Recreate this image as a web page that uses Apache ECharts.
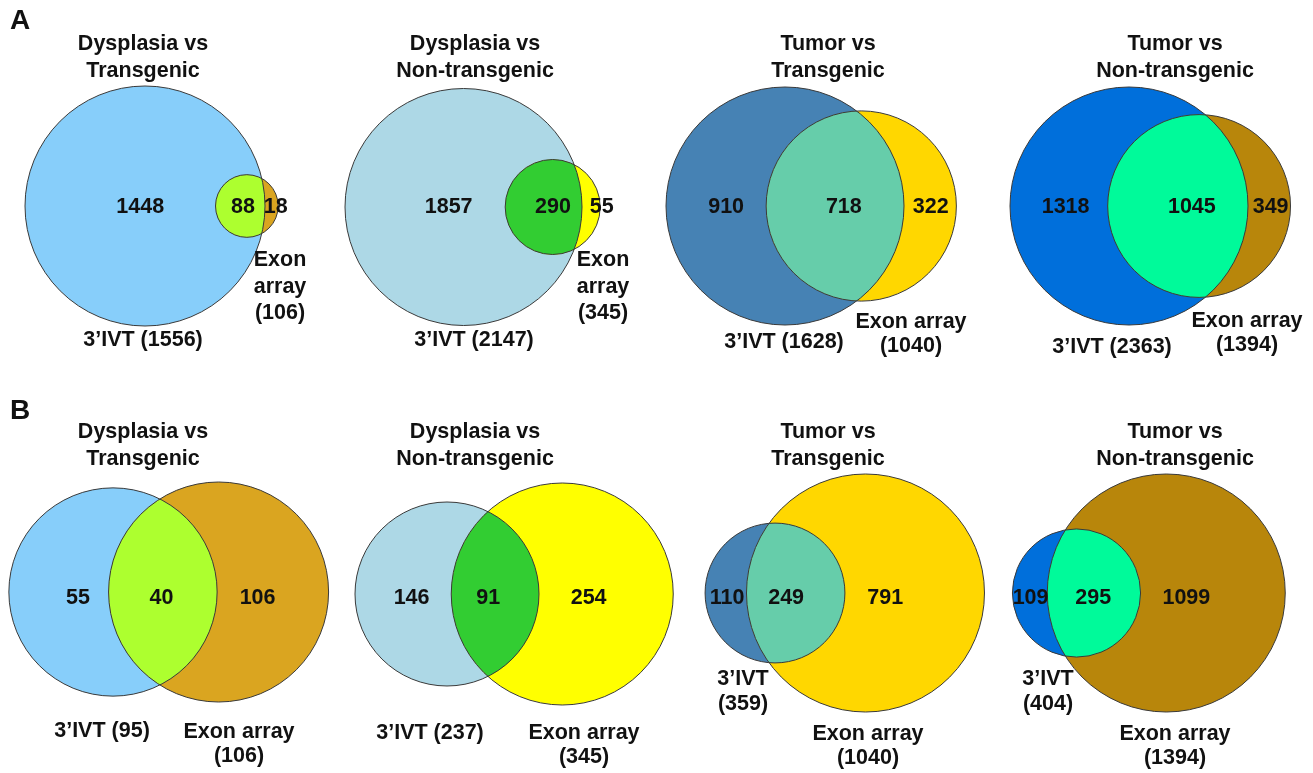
<!DOCTYPE html>
<html>
<head>
<meta charset="utf-8">
<script src="https://cdn.jsdelivr.net/npm/echarts@6.0.0/dist/echarts.min.js"></script>
<style>
html, body { margin: 0; padding: 0; background: #fff; }
#vennChart { width: 1313px; height: 773px; }
</style>
</head>
<body>
<div id="vennChart"></div>
<script>
// comparisons (one column each)
const comparisons = ["Dysplasia vs\nTransgenic", "Dysplasia vs\nNon-transgenic", "Tumor vs\nTransgenic", "Tumor vs\nNon-transgenic"];
const rowNames = ["A", "B"];

// row A
const ivtTotalA = [1556, 2147, 1628, 2363];
const exonTotalA = [106, 345, 1040, 1394];
const ivtOnlyA = [1448, 1857, 910, 1318];
const bothA = [88, 290, 718, 1045];
const exonOnlyA = [18, 55, 322, 349];

// row B
const ivtTotalB = [95, 237, 359, 404];
const exonTotalB = [106, 345, 1040, 1394];
const ivtOnlyB = [55, 146, 110, 109];
const bothB = [40, 91, 249, 295];
const exonOnlyB = [106, 254, 791, 1099];

const ivtColors = ["#87CEFA", "#ADD8E6", "#4682B4", "#006FDB"];
const exonColors = ["#DAA520", "#FFFF00", "#FFD700", "#B8860B"];
const bothColors = ["#ADFF2F", "#32CD32", "#66CDAA", "#00FA9A"];

// layout of each panel (page pixels)
const rowLayout = [
  { letterY: 21, titleY: 58, numberY: 207 },
  { letterY: 411, titleY: 446, numberY: 598 },
];
const titleX = [143, 475, 828, 1175];
// shift: nudges for the three region numbers, off their centroids
const panelLayout = [
  { cx: 145, cy: 206, rMax: 120, ivtAt: [143, 340], ivtText: "3’IVT ", exonAt: [280, 287], exonText: "Exon\narray\n", shift: [1, 1, 6] },
  { cx: 463.5, cy: 207, rMax: 118.5, ivtAt: [474, 340], ivtText: "3’IVT ", exonAt: [603, 287], exonText: "Exon\narray\n", shift: [-2, 7, 14] },
  { cx: 785, cy: 206, rMax: 119, ivtAt: [784, 342], ivtText: "3’IVT ", exonAt: [911, 334], exonText: "Exon array\n", shift: [-18, 7, 15] },
  { cx: 1129, cy: 206, rMax: 119, ivtAt: [1112, 347], ivtText: "3’IVT ", exonAt: [1247, 333], exonText: "Exon array\n", shift: [-23, 12, 14] },
  { cx: 113, cy: 592, rMax: 110, ivtAt: [102, 731], ivtText: "3’IVT ", exonAt: [239, 744], exonText: "Exon array\n", shift: [1, -1, 5] },
  { cx: 447, cy: 594, rMax: 111, ivtAt: [430, 733], ivtText: "3’IVT ", exonAt: [584, 745], exonText: "Exon array\n", shift: [-6, -6, 2] },
  { cx: 775, cy: 593, rMax: 119, ivtAt: [743, 692], ivtText: "3’IVT\n", exonAt: [868, 746], exonText: "Exon array\n", shift: [-7, -7, -3] },
  { cx: 1076.5, cy: 593, rMax: 119, ivtAt: [1048, 692], ivtText: "3’IVT\n", exonAt: [1175, 746], exonText: "Exon array\n", shift: [-6, 2, 0] },
];

const FONT = 'bold 21.5px "Liberation Sans", Arial, sans-serif';

function lensArea(r1, r2, d) {
  if (d >= r1 + r2) return 0;
  if (d <= Math.abs(r1 - r2)) return Math.PI * Math.min(r1, r2) ** 2;
  const a1 = Math.acos((d * d + r1 * r1 - r2 * r2) / (2 * d * r1));
  const a2 = Math.acos((d * d + r2 * r2 - r1 * r1) / (2 * d * r2));
  return r1 * r1 * a1 + r2 * r2 * a2 -
    0.5 * Math.sqrt((-d + r1 + r2) * (d + r1 - r2) * (d - r1 + r2) * (d + r1 + r2));
}

function solveDistance(r1, r2, target) {
  let lo = Math.abs(r1 - r2), hi = r1 + r2;
  for (let i = 0; i < 60; i++) {
    const mid = (lo + hi) / 2;
    if (lensArea(r1, r2, mid) > target) lo = mid; else hi = mid;
  }
  return (lo + hi) / 2;
}

// area-proportional geometry, in data units
function buildGeometry(i) {
  const row = i < 4 ? 0 : 1, col = i % 4;
  const ivt = row ? ivtTotalB[col] : ivtTotalA[col];
  const exon = row ? exonTotalB[col] : exonTotalA[col];
  const both = row ? bothB[col] : bothA[col];
  const lay = panelLayout[i];
  const k = lay.rMax / Math.sqrt(Math.max(ivt, exon));
  const r1 = k * Math.sqrt(ivt), r2 = k * Math.sqrt(exon);
  const d = solveDistance(r1, r2, k * k * Math.PI * both);
  const x1 = lay.cx, x2 = lay.cx + d, cy = lay.cy;
  // region centroids (x) by sampling
  const sums = [0, 0, 0], counts = [0, 0, 0];
  for (let x = x1 - r1; x <= x2 + r2; x += 1) {
    for (let y = cy - Math.max(r1, r2); y <= cy + Math.max(r1, r2); y += 1) {
      const in1 = (x - x1) ** 2 + (y - cy) ** 2 <= r1 * r1;
      const in2 = (x - x2) ** 2 + (y - cy) ** 2 <= r2 * r2;
      const region = in1 && in2 ? 1 : in1 ? 0 : in2 ? 2 : -1;
      if (region >= 0) { sums[region] += x; counts[region]++; }
    }
  }
  return {
    row, col, ivt, exon, r1, r2, x1, x2, cy,
    labelX: sums.map((s, j) => s / counts[j] + lay.shift[j]),
    counts: row ? [ivtOnlyB[col], bothB[col], exonOnlyB[col]] : [ivtOnlyA[col], bothA[col], exonOnlyA[col]],
  };
}

const geometry = [0, 1, 2, 3, 4, 5, 6, 7].map(buildGeometry);

function textEl(x, y, text, font, lineHeight) {
  return {
    type: "text",
    x: x,
    y: y,
    style: {
      text: text,
      fill: "#111",
      font: font || FONT,
      textAlign: "center",
      align: "center",
      textVerticalAlign: "middle",
      verticalAlign: "middle",
      lineHeight: lineHeight || 25,
    },
  };
}

function renderPanel(params, api) {
  const g = geometry[params.dataIndex];
  const lay = panelLayout[params.dataIndex];
  const rowLay = rowLayout[g.row];
  const c1 = api.coord([g.x1, g.cy]);
  const c2 = api.coord([g.x2, g.cy]);
  const r1 = api.size([g.r1, 0])[0];
  const r2 = api.size([g.r2, 0])[0];
  const d = c2[0] - c1[0];
  const a = (d * d + r1 * r1 - r2 * r2) / (2 * d);
  const h = Math.sqrt(Math.max(r1 * r1 - a * a, 0));
  const px = c1[0] + a, top = c1[1] - h, bot = c1[1] + h;
  const large1 = a < 0 ? 1 : 0;
  const large2 = a > d ? 1 : 0;
  const lensPath =
    "M " + px + " " + top +
    " A " + r1 + " " + r1 + " 0 " + large1 + " 1 " + px + " " + bot +
    " A " + r2 + " " + r2 + " 0 " + large2 + " 1 " + px + " " + top + " Z";
  const line = { stroke: "#3a3a3a", lineWidth: 1, fill: null };

  const children = [
    { type: "circle", shape: { cx: c1[0], cy: c1[1], r: r1 }, style: { fill: ivtColors[g.col] } },
    { type: "circle", shape: { cx: c2[0], cy: c2[1], r: r2 }, style: { fill: exonColors[g.col] } },
    { type: "path", shape: { pathData: lensPath }, style: { fill: bothColors[g.col] } },
    { type: "circle", shape: { cx: c1[0], cy: c1[1], r: r1 }, style: line },
    { type: "circle", shape: { cx: c2[0], cy: c2[1], r: r2 }, style: line },
  ];

  const ny = api.coord([0, rowLay.numberY])[1];
  g.counts.forEach((n, j) => {
    children.push(textEl(api.coord([g.labelX[j], 0])[0], ny, String(n)));
  });

  const tp = api.coord([titleX[g.col], rowLay.titleY]);
  children.push(textEl(tp[0], tp[1], comparisons[g.col], FONT, 27));
  const ip = api.coord(lay.ivtAt);
  children.push(textEl(ip[0], ip[1], lay.ivtText + "(" + g.ivt + ")"));
  const ep = api.coord(lay.exonAt);
  children.push(textEl(ep[0], ep[1], lay.exonText + "(" + g.exon + ")", FONT, g.row === 0 && g.col < 2 ? 26.5 : 24.5));

  if (g.col === 0) {
    const lp = api.coord([20, rowLay.letterY]);
    children.push(textEl(lp[0], lp[1], rowNames[g.row], 'bold 28px "Liberation Sans", Arial, sans-serif'));
  }
  return { type: "group", children: children };
}

const vennChart = echarts.init(document.getElementById("vennChart"), null, { renderer: "canvas" });

const option = {
  backgroundColor: "#fff",
  animation: false,
  grid: { left: 0, right: 0, top: 0, bottom: 0 },
  xAxis: { type: "value", min: 0, max: 1313, show: false },
  yAxis: { type: "value", min: 0, max: 773, inverse: true, show: false },
  series: [
    {
      type: "custom",
      clip: false,
      renderItem: renderPanel,
      data: geometry.map((g) => [g.x1, g.cy]),
    },
  ],
};

option && vennChart.setOption(option);
</script>
</body>
</html>
